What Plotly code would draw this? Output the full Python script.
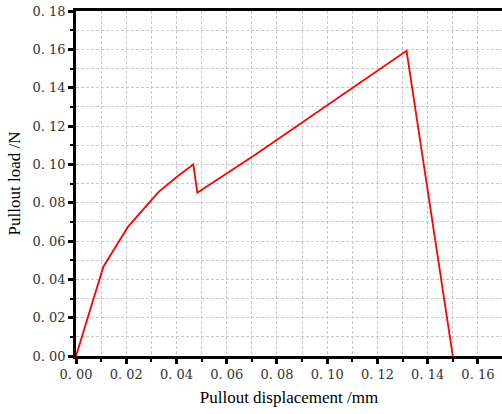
import plotly.graph_objects as go

displacement = [0.0, 0.0109, 0.0207, 0.0328, 0.0402, 0.0467, 0.0483, 0.0600, 0.0712, 0.1316, 0.1500]
load = [0.0, 0.0466, 0.0674, 0.0855, 0.0935, 0.1000, 0.0852, 0.0955, 0.1049, 0.1592, 0.0]

x_tick_vals = [0.00, 0.02, 0.04, 0.06, 0.08, 0.10, 0.12, 0.14, 0.16]
x_tick_text = ["0. 00", "0. 02", "0. 04", "0. 06", "0. 08", "0. 10", "0. 12", "0. 14", "0. 16"]
y_tick_vals = [0.00, 0.02, 0.04, 0.06, 0.08, 0.10, 0.12, 0.14, 0.16, 0.18]
y_tick_text = ["0. 00", "0. 02", "0. 04", "0. 06", "0. 08", "0. 10", "0. 12", "0. 14", "0. 16", "0. 18"]

font_family = "DejaVu Serif"
title_family = "serif"
grid_color = "#c8c8c8"
grid_dash = "3px,2px"

fig = go.Figure()
fig.add_trace(go.Scatter(x=displacement, y=load, mode="lines",
                         line=dict(color="#ff0000", width=1.8),
                         showlegend=False, hoverinfo="skip"))

common = dict(
    showline=True, linecolor="black", linewidth=2.5,
    ticks="outside", ticklen=5, tickwidth=2.5, tickcolor="black",
    showgrid=True, gridcolor=grid_color, griddash=grid_dash, gridwidth=1,
    zeroline=False,
    tickfont=dict(family=font_family, size=13, color="#333333"),
    minor=dict(dtick=0.01, ticks="outside", ticklen=3, tickwidth=2, tickcolor="black",
               showgrid=True, gridcolor=grid_color, griddash=grid_dash, gridwidth=1),
)

fig.update_xaxes(range=[0, 0.1696], tickmode="array", tickvals=x_tick_vals, ticktext=x_tick_text,
                 mirror=True,
                 title=dict(text="Pullout displacement /mm", font=dict(family=title_family, size=17, color="black"),
                            standoff=10),
                 **common)
fig.update_yaxes(range=[0, 0.18], tickmode="array", tickvals=y_tick_vals, ticktext=y_tick_text,
                 title=dict(text="Pullout load /N", font=dict(family="Liberation Serif", size=17, color="black"),
                            standoff=8),
                 **common)

fig.update_layout(width=502, height=414, margin=dict(l=76, r=0, t=11, b=58),
                  plot_bgcolor="white", paper_bgcolor="white")

fig.write_html("out.html")
